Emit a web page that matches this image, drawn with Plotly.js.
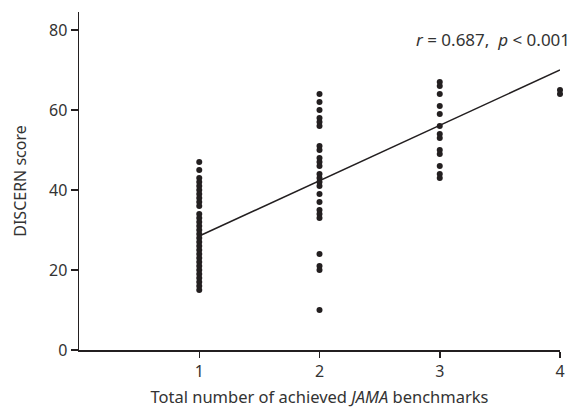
<!DOCTYPE html>
<html>
<head>
<meta charset="utf-8">
<script src="https://cdn.plot.ly/plotly-3.0.1.min.js"></script>
<style>html,body{margin:0;padding:0;background:#fff;}#chart{width:573px;height:412px;}</style>
</head>
<body>
<div id="chart"></div>
<script>
// Benchmark groups (total number of achieved JAMA benchmarks)
const benchmarks = [1, 2, 3, 4];
// DISCERN scores, per group
const scores1 = [47, 45, 43, 42, 41, 40, 39, 38, 37, 36, 34, 33, 32, 31, 30, 29, 28, 27, 26, 25, 24, 23, 22, 21, 20, 19, 18, 17, 16, 15];
const scores2 = [64, 62, 60, 58, 57, 56, 51, 50, 48, 47, 46, 44, 43, 42, 41, 39, 37, 35, 34, 33, 24, 21, 20, 10];
const scores3 = [67, 66, 64, 61, 59, 56, 54, 53, 50, 49, 46, 44, 43];
const scores4 = [65, 64];
// Regression line end points
const fitX = [1, 4];
const fitY = [28.5, 70];
const xTicks = [1, 2, 3, 4];
const yTicks = [0, 20, 40, 60, 80];
const statText = '<i>r</i> = 0.687,  <i>p</i> < 0.001';

const groups = [scores1, scores2, scores3, scores4];
const px = [], py = [];
groups.forEach((g, i) => g.forEach(v => { px.push(benchmarks[i]); py.push(v); }));

const ink = '#231f20';
const txt = '#333333';
const font = 'Noto Sans, Open Sans, sans-serif';

const data = [
  {x: px, y: py, type: 'scatter', mode: 'markers', cliponaxis: false,
   marker: {color: ink, size: 6}, hoverinfo: 'skip'},
  {x: fitX, y: fitY, type: 'scatter', mode: 'lines', cliponaxis: false,
   line: {color: ink, width: 1.5}, hoverinfo: 'skip'}
];

const layout = {
  width: 573, height: 412,
  margin: {l: 79, r: 13, t: 12, b: 62, pad: 0},
  paper_bgcolor: '#fff', plot_bgcolor: '#fff',
  showlegend: false,
  font: {family: font, size: 16, color: txt},
  xaxis: {
    range: [0, 4], tickvals: xTicks, ticktext: xTicks.map(String),
    showgrid: false, zeroline: false, showline: true, linecolor: ink, linewidth: 1.5,
    ticks: 'outside', ticklen: 6, tickwidth: 1.5, tickcolor: ink,
    tickfont: {family: font, size: 16, color: txt},
    title: {text: 'Total number of achieved <i>JAMA</i> benchmarks', font: {family: font, size: 16.5, color: txt}, standoff: 10}
  },
  yaxis: {
    range: [0, 84.5], tickvals: yTicks, ticktext: yTicks.map(String),
    showgrid: false, zeroline: false, showline: true, linecolor: ink, linewidth: 1.5,
    ticks: 'outside', ticklen: 7, tickwidth: 1.5, tickcolor: ink,
    tickfont: {family: font, size: 16, color: txt},
    title: {text: 'DISCERN score', font: {family: font, size: 16, color: txt}, standoff: 18}
  },
  annotations: [{
    text: statText, xref: 'paper', yref: 'y', x: 1.025, y: 77.75,
    xanchor: 'right', yanchor: 'middle', showarrow: false,
    font: {family: font, size: 17, color: txt}
  }]
};

Plotly.newPlot('chart', data, layout, {staticPlot: true, displayModeBar: false});
</script>
</body>
</html>
